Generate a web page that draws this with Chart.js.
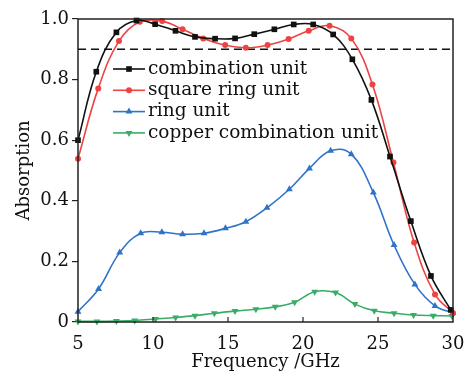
<!DOCTYPE html>
<html>
<head>
<meta charset="utf-8">
<script src="https://cdn.jsdelivr.net/npm/chart.js@4"></script>
<style>
  body { margin: 0; background: #fff; }
  canvas { display: block; }
</style>
</head>
<body>
<canvas id="absChart" width="473" height="371"></canvas>
<script>
// values (frequency in GHz, absorption 0..1)
const combX = [5, 6.22, 7.56, 8.9, 10.14, 11.5, 12.8, 14.14, 15.47, 16.75, 18.09, 19.38, 20.68, 22.01, 23.29, 24.56, 25.8, 27.19, 28.53, 29.85];
const combY = [0.60, 0.826, 0.956, 0.995, 0.983, 0.961, 0.941, 0.935, 0.936, 0.950, 0.966, 0.982, 0.982, 0.949, 0.867, 0.733, 0.546, 0.333, 0.152, 0.04];

const squareX = [5, 6.35, 7.73, 9.12, 10.61, 11.97, 13.35, 14.81, 16.19, 17.64, 19.04, 20.38, 21.77, 23.22, 24.63, 26.03, 27.41, 28.8, 30];
const squareY = [0.539, 0.771, 0.927, 0.991, 0.993, 0.966, 0.936, 0.914, 0.905, 0.914, 0.934, 0.961, 0.978, 0.936, 0.784, 0.526, 0.262, 0.091, 0.03];

const ringX = [5, 6.37, 7.78, 9.18, 10.59, 11.97, 13.4, 14.83, 16.19, 17.6, 19.09, 20.43, 21.84, 23.22, 24.69, 26.07, 27.46, 28.8, 30];
const ringY = [0.034, 0.109, 0.229, 0.293, 0.296, 0.290, 0.293, 0.309, 0.331, 0.377, 0.438, 0.507, 0.565, 0.554, 0.427, 0.254, 0.124, 0.053, 0.03];

const copperX = [5, 6.26, 7.56, 8.78, 10.17, 11.51, 12.8, 14.09, 15.47, 16.86, 18.15, 19.44, 20.78, 22.17, 23.46, 24.75, 26.07, 27.37, 28.68, 29.93];
const copperY = [0.002, 0.002, 0.003, 0.005, 0.01, 0.015, 0.021, 0.029, 0.036, 0.042, 0.05, 0.065, 0.10, 0.097, 0.059, 0.037, 0.029, 0.023, 0.021, 0.02];

const thresholdX = [5, 30];
const thresholdY = [0.9, 0.9];

const seriesNames = ['combination unit', 'square ring unit', 'ring unit', 'copper combination unit'];
const xTicks = [5, 10, 15, 20, 25, 30];

const FONT = 'DejaVu Serif';
const pts = (xs, ys) => xs.map((x, i) => ({ x: x, y: ys[i] }));

function series(label, xs, ys, color, style, radius, rotation) {
    return {
        label: label,
        data: pts(xs, ys),
        borderColor: color,
        backgroundColor: color,
        borderWidth: 1.6,
        pointStyle: style,
        pointRadius: radius,
        pointRotation: rotation || 0,
        pointBorderWidth: 0,
        tension: 0.4,
        clip: 6
    };
}

// frame, inward x ticks and the in-plot legend
const framePlugin = {
    id: 'frame',
    afterDatasetsDraw(chart) {
        const { ctx, chartArea: a } = chart;
        const xs = chart.scales.x;
        ctx.save();
        ctx.strokeStyle = '#222';
        ctx.lineWidth = 1.5;
        ctx.strokeRect(a.left, a.top, a.right - a.left, a.bottom - a.top);
        ctx.lineWidth = 1.2;
        xTicks.slice(1, -1).forEach(v => {
            const px = xs.getPixelForValue(v);
            ctx.beginPath();
            ctx.moveTo(px, a.bottom);
            ctx.lineTo(px, a.bottom - 5);
            ctx.stroke();
        });

        // legend
        const x0 = a.left + 35, x1 = a.left + 67;
        let y = a.top + 50;
        ctx.font = '18.5px "' + FONT + '"';
        ctx.textBaseline = 'middle';
        chart.data.datasets.slice(0, 4).forEach((ds, i) => {
            ctx.strokeStyle = ds.borderColor;
            ctx.lineWidth = 1.6;
            ctx.beginPath();
            ctx.moveTo(x0, y);
            ctx.lineTo(x1, y);
            ctx.stroke();
            ctx.fillStyle = ds.backgroundColor;
            Chart.helpers.drawPoint(ctx, {
                pointStyle: ds.pointStyle,
                radius: ds.pointRadius,
                rotation: ds.pointRotation,
                borderWidth: 0
            }, (x0 + x1) / 2, y);
            ctx.fillStyle = '#111';
            ctx.fillText(seriesNames[i], x1 + 3, y);
            y += 21.3;
        });
        ctx.restore();
    }
};

new Chart(document.getElementById('absChart'), {
    type: 'line',
    data: {
        datasets: [
            series(seriesNames[0], combX, combY, '#111111', 'rect', 4, 0),
            series(seriesNames[1], squareX, squareY, '#ee4343', 'circle', 3, 0),
            series(seriesNames[2], ringX, ringY, '#2f73c9', 'triangle', 4, 0),
            series(seriesNames[3], copperX, copperY, '#38ad68', 'triangle', 4, 180),
            {
                label: 'threshold',
                data: pts(thresholdX, thresholdY),
                borderColor: '#111',
                borderWidth: 1.5,
                borderDash: [8, 5],
                pointRadius: 0,
                tension: 0
            }
        ]
    },
    options: {
        responsive: false,
        animation: false,
        layout: { padding: { left: 0, right: 20, top: 19, bottom: 0 } },
        plugins: {
            legend: { display: false },
            tooltip: { enabled: false }
        },
        scales: {
            x: {
                type: 'linear',
                min: 5,
                max: 30,
                afterBuildTicks: scale => { scale.ticks = xTicks.map(v => ({ value: v })); },
                afterFit: scale => { scale.height = 49; },
                grid: { display: false },
                border: { display: false },
                ticks: { color: '#111', font: { family: FONT, size: 18 }, padding: 4, maxRotation: 0 },
                title: {
                    display: true,
                    text: 'Frequency /GHz',
                    color: '#111',
                    font: { family: FONT, size: 18 },
                    padding: { top: 0, bottom: -2 }
                }
            },
            y: {
                min: 0,
                max: 1,
                afterFit: scale => { scale.width = 78; },
                grid: { drawOnChartArea: false, tickLength: 6, color: '#222', lineWidth: 1.2 },
                border: { display: false },
                ticks: {
                    stepSize: 0.2,
                    color: '#111',
                    font: { family: FONT, size: 18 },
                    padding: 3,
                    callback: v => v === 0 ? '0' : v.toFixed(1)
                },
                title: {
                    display: true,
                    text: 'Absorption',
                    color: '#111',
                    font: { family: FONT, size: 18 },
                    padding: { top: 14, bottom: 0 }
                }
            }
        }
    },
    plugins: [framePlugin]
});
</script>
</body>
</html>
